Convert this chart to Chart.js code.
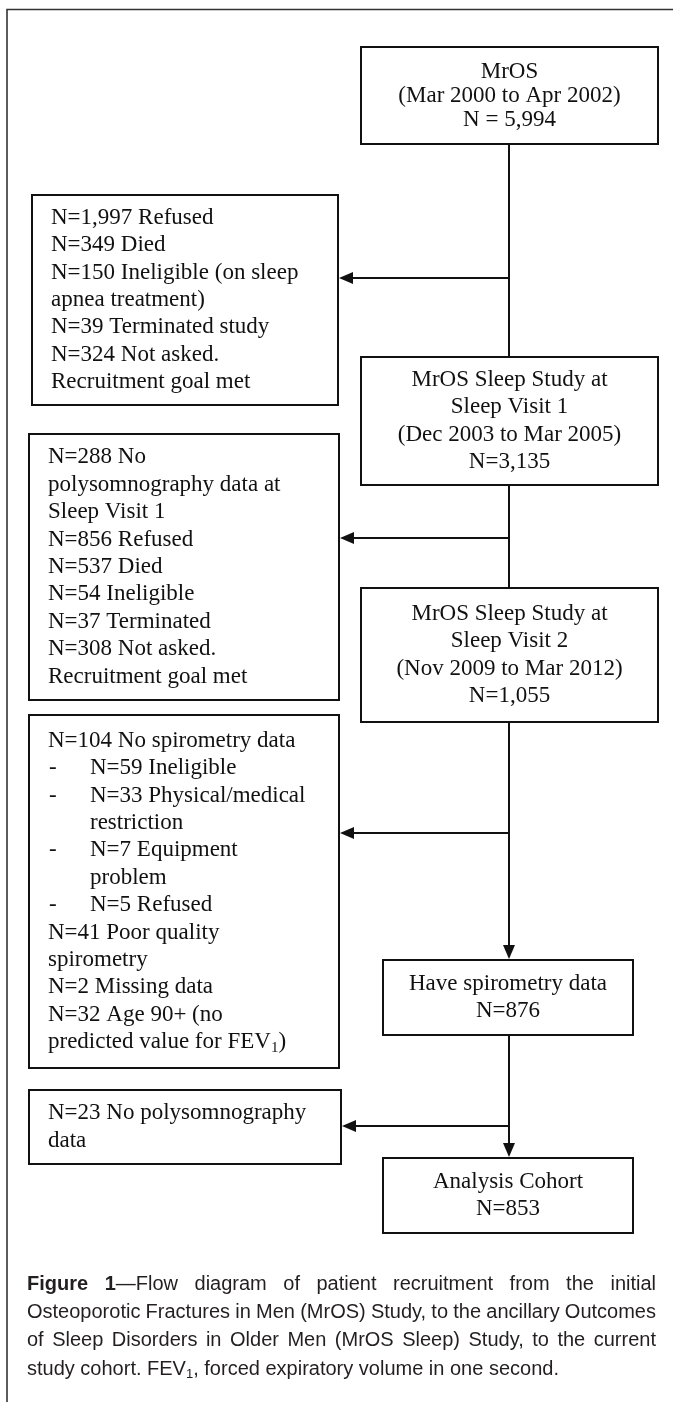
<!DOCTYPE html>
<html>
<head>
<meta charset="utf-8">
<script src="https://cdn.jsdelivr.net/npm/chart.js@4.4.1/dist/chart.umd.min.js"></script>
<style>
html,body{margin:0;padding:0;background:#fff;}
#wrap{position:relative;width:673px;height:1402px;overflow:hidden;background:#fff;}
#c{position:absolute;left:0;top:0;}
.cap{position:absolute;left:27px;width:629px;font-family:"Liberation Sans",Arial,sans-serif;font-size:20px;line-height:28px;color:#231f20;white-space:nowrap;}
.cap b{font-weight:bold;}
.cap sub{font-size:13px;vertical-align:-3px;line-height:0;}
</style>
</head>
<body>
<div id="wrap">
<canvas id="c" width="673" height="1402"></canvas>
<div class="cap" id="cap0" style="top:1269px"><b>Figure 1</b>—Flow diagram of patient recruitment from the initial</div>
<div class="cap" id="cap1" style="top:1297px">Osteoporotic Fractures in Men (MrOS) Study, to the ancillary Outcomes</div>
<div class="cap" id="cap2" style="top:1325px">of Sleep Disorders in Older Men (MrOS Sleep) Study, to the current</div>
<div class="cap" id="cap3" style="top:1354px">study cohort. FEV<sub>1</sub>, forced expiratory volume in one second.</div>
</div>
<script>
// ---------------- DATA ----------------
const stageNames = [
  ["MrOS", "(Mar 2000 to Apr 2002)"],
  ["MrOS Sleep Study at", "Sleep Visit 1", "(Dec 2003 to Mar 2005)"],
  ["MrOS Sleep Study at", "Sleep Visit 2", "(Nov 2009 to Mar 2012)"],
  ["Have spirometry data"],
  ["Analysis Cohort"]
];
const stageCounts = ["N = 5,994", "N=3,135", "N=1,055", "N=876", "N=853"];

const exclusion1 = [
  "N=1,997 Refused",
  "N=349 Died",
  "N=150 Ineligible (on sleep",
  "apnea treatment)",
  "N=39 Terminated study",
  "N=324 Not asked.",
  "Recruitment goal met"
];
const exclusion2 = [
  "N=288 No",
  "polysomnography data at",
  "Sleep Visit 1",
  "N=856 Refused",
  "N=537 Died",
  "N=54 Ineligible",
  "N=37 Terminated",
  "N=308 Not asked.",
  "Recruitment goal met"
];
const exclusion3 = [
  "N=104 No spirometry data",
  "- N=59 Ineligible",
  "- N=33 Physical/medical",
  "\trestriction",
  "- N=7 Equipment",
  "\tproblem",
  "- N=5 Refused",
  "N=41 Poor quality",
  "spirometry",
  "N=2 Missing data",
  "N=32 Age 90+ (no",
  "predicted value for FEV_1)"
];
const exclusion4 = [
  "N=23 No polysomnography",
  "data"
];
const exclusions = [exclusion1, exclusion2, exclusion3, exclusion4];

// ---------------- LAYOUT (page units = scale units) ----------------
const mainBoxes = [
  {x0:361, x1:658, y0:47,   y1:144,  lh:24},
  {x0:361, x1:658, y0:357,  y1:485,  lh:27.4},
  {x0:361, x1:658, y0:588,  y1:722,  lh:27.4},
  {x0:383, x1:633, y0:960,  y1:1035, lh:27.4},
  {x0:383, x1:633, y0:1158, y1:1233, lh:27.4}
];
const sideBoxes = [
  {x0:32, x1:338, y0:195,  y1:405},
  {x0:29, x1:339, y0:434,  y1:700},
  {x0:29, x1:339, y0:715,  y1:1068},
  {x0:29, x1:341, y0:1090, y1:1164}
];
const branchY = [278, 538, 833, 1126];
const trunkX = 509;
const arrowIntoMain = [false, false, true, true];
const ARROW_LEN = 14, ARROW_HALF = 6;
const LINE_H = 27.4;
const INK = "#111";
const SERIF = '23px "Liberation Serif", "Times New Roman", serif';

// connectors as datasets
const connectorSets = [];
for (let i = 0; i < mainBoxes.length - 1; i++) {
  const endY = mainBoxes[i+1].y0 - (arrowIntoMain[i] ? ARROW_LEN - 1 : 0);
  connectorSets.push({data:[{x:trunkX, y:mainBoxes[i].y1}, {x:trunkX, y:endY}]});
}
for (let i = 0; i < sideBoxes.length; i++) {
  connectorSets.push({data:[{x:trunkX, y:branchY[i]}, {x:sideBoxes[i].x1 + ARROW_LEN - 1, y:branchY[i]}]});
}
const datasets = connectorSets.map(d => ({
  data: d.data, showLine: true, borderColor: INK, borderWidth: 2,
  pointRadius: 0, fill: false, tension: 0
}));

function drawRich(ctx, str, x, y, align) {
  const m = str.match(/^(.*)_(\d)(.*)$/);
  if (!m) { ctx.textAlign = align; ctx.fillText(str, x, y); return; }
  ctx.textAlign = 'left';
  const w1 = ctx.measureText(m[1]).width;
  ctx.fillText(m[1], x, y);
  const font = ctx.font;
  ctx.font = '15px "Liberation Serif", serif';
  const w2 = ctx.measureText(m[2]).width;
  ctx.fillText(m[2], x + w1, y + 6);
  ctx.font = font;
  ctx.fillText(m[3], x + w1 + w2, y);
}

const flowPlugin = {
  id: 'flow',
  beforeDatasetsDraw(chart) {
    const {ctx, scales:{x, y}} = chart;
    ctx.save();
    // outer frame (top and left rule)
    ctx.strokeStyle = "#333"; ctx.lineWidth = 1.6;
    ctx.beginPath();
    ctx.moveTo(x.getPixelForValue(7), y.getPixelForValue(1402));
    ctx.lineTo(x.getPixelForValue(7), y.getPixelForValue(9.5));
    ctx.lineTo(x.getPixelForValue(673), y.getPixelForValue(9.5));
    ctx.stroke();
    ctx.restore();
  },
  afterDatasetsDraw(chart) {
    const {ctx, scales:{x, y}} = chart;
    const px = v => x.getPixelForValue(v), py = v => y.getPixelForValue(v);
    ctx.save();
    ctx.strokeStyle = INK; ctx.fillStyle = INK; ctx.lineWidth = 2;
    const all = mainBoxes.concat(sideBoxes);
    all.forEach(b => ctx.strokeRect(px(b.x0), py(b.y0), px(b.x1) - px(b.x0), py(b.y1) - py(b.y0)));
    // arrowheads pointing left into side boxes
    sideBoxes.forEach((b, i) => {
      const tx = px(b.x1 + 1), ty = py(branchY[i]);
      ctx.beginPath();
      ctx.moveTo(tx, ty);
      ctx.lineTo(tx + ARROW_LEN, ty - ARROW_HALF);
      ctx.lineTo(tx + ARROW_LEN, ty + ARROW_HALF);
      ctx.closePath(); ctx.fill();
    });
    // arrowheads pointing down into main boxes
    mainBoxes.forEach((b, i) => {
      if (i === 0 || !arrowIntoMain[i-1]) return;
      const tx = px(trunkX), ty = py(b.y0 - 1);
      ctx.beginPath();
      ctx.moveTo(tx, ty);
      ctx.lineTo(tx - ARROW_HALF, ty - ARROW_LEN);
      ctx.lineTo(tx + ARROW_HALF, ty - ARROW_LEN);
      ctx.closePath(); ctx.fill();
    });
    // text
    ctx.font = SERIF; ctx.textBaseline = 'middle';
    mainBoxes.forEach((b, i) => {
      const lines = stageNames[i].concat([stageCounts[i]]);
      const cx = px((b.x0 + b.x1) / 2);
      const mid = (b.y0 + b.y1) / 2;
      lines.forEach((t, k) => {
        const yy = py(mid + (k - (lines.length - 1) / 2) * b.lh);
        drawRich(ctx, t, cx, yy, 'center');
      });
    });
    sideBoxes.forEach((b, i) => {
      const lines = exclusions[i];
      const mid = (b.y0 + b.y1) / 2;
      lines.forEach((t, k) => {
        const yy = py(mid + (k - (lines.length - 1) / 2) * LINE_H);
        if (t.startsWith("- ")) {
          ctx.textAlign = 'left';
          ctx.fillText("-", px(b.x0 + 20), yy);
          drawRich(ctx, t.slice(2), px(b.x0 + 61), yy, 'left');
        } else if (t.startsWith("\t")) {
          drawRich(ctx, t.slice(1), px(b.x0 + 61), yy, 'left');
        } else {
          drawRich(ctx, t, px(b.x0 + 19), yy, 'left');
        }
      });
    });
    ctx.restore();
  }
};

new Chart(document.getElementById('c'), {
  type: 'scatter',
  data: { datasets },
  options: {
    responsive: false, animation: false, devicePixelRatio: 1,
    layout: { padding: 0 },
    plugins: { legend: {display:false}, tooltip: {enabled:false}, title:{display:false} },
    events: [],
    scales: {
      x: { type:'linear', min:0, max:673, display:false },
      y: { type:'linear', min:0, max:1402, reverse:true, display:false }
    }
  },
  plugins: [flowPlugin]
});

// justify caption lines (all but last) to the full width
['cap0','cap1','cap2'].forEach(id => {
  const el = document.getElementById(id);
  const target = 629;
  const spaces = (el.textContent.match(/ /g) || []).length;
  const range = document.createRange(); range.selectNodeContents(el);
  const w = range.getBoundingClientRect().width;
  if (spaces > 0) el.style.wordSpacing = ((target - w) / spaces) + 'px';
});
</script>
</body>
</html>
